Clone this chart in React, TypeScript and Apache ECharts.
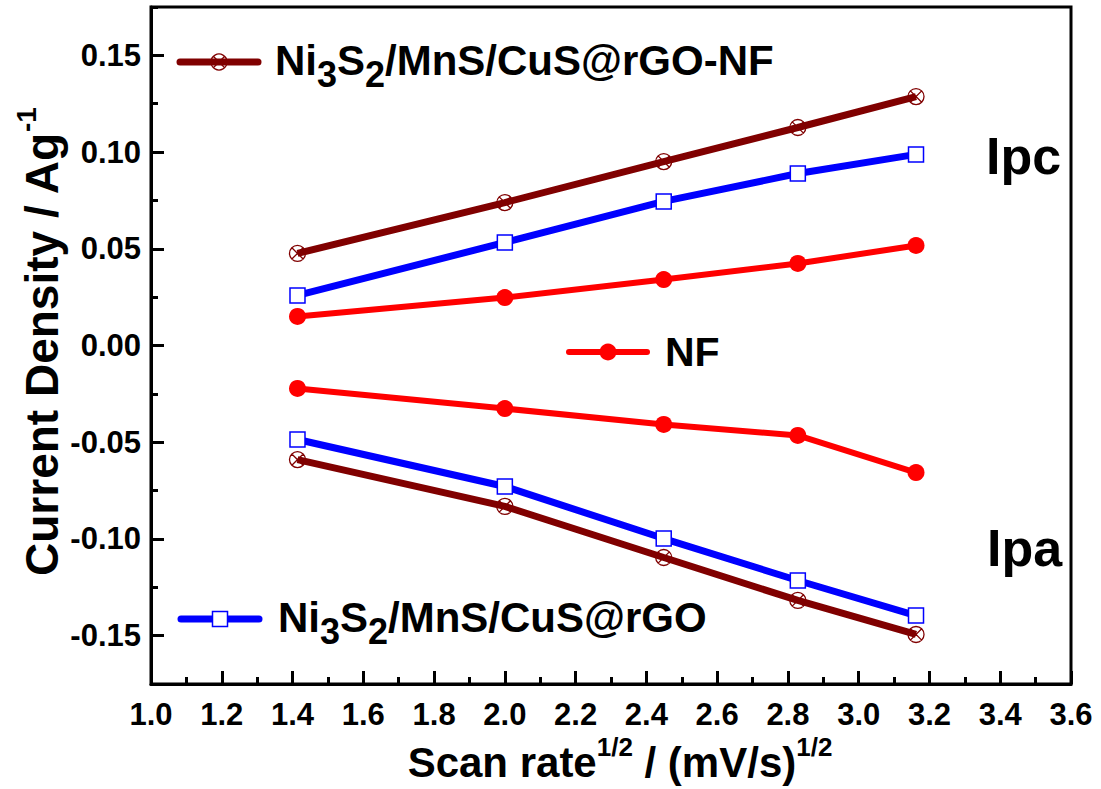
import React, { useEffect, useRef } from "react";
import * as echarts from "echarts";

const scanRate = [1.414, 2.0, 2.449, 2.828, 3.162];
const compositeNFIpc = [0.0476, 0.0739, 0.0951, 0.1127, 0.1287];
const compositeNFIpa = [-0.059, -0.0832, -0.1096, -0.1318, -0.1494];
const compositeIpc = [0.0259, 0.0533, 0.0745, 0.0889, 0.0988];
const compositeIpa = [-0.0486, -0.0729, -0.0998, -0.1215, -0.1396];
const nfIpc = [0.015, 0.0248, 0.0341, 0.0424, 0.0517];
const nfIpa = [-0.0222, -0.0326, -0.0408, -0.0465, -0.0657];

const FONT = "'Liberation Sans', Arial, sans-serif";
const BROWN = "#800000";
const BLUE = "#0000ff";
const RED = "#ff0000";

const GRID_LEFT = 151;
const GRID_RIGHT = 30;
const GRID_TOP = 7;
const GRID_BOTTOM = 105;
const W = 1101;
const H = 789;

const crossedCircle =
  "path://M10,0 A10,10 0 1,1 10,20 A10,10 0 1,1 10,0 Z M2.93,2.93 L17.07,17.07 M17.07,2.93 L2.93,17.07";

const pair = (ys: number[]) => scanRate.map((x, i) => [x, ys[i]]);

export default function App() {
  const ref = useRef<HTMLDivElement>(null);
  useEffect(() => {
    if (!ref.current) return;
    const chart = echarts.init(ref.current, undefined, { renderer: "svg" });

    const mkSeries = (name: string, ys: number[], kind: string) => {
      const base: any = {
        name,
        type: "line",
        data: pair(ys),
        xAxisIndex: 0,
        yAxisIndex: 0,
        symbolKeepAspect: true,
        z: 3,
      };
      if (kind === "brown") {
        base.symbol = crossedCircle;
        base.symbolSize = 16;
        base.lineStyle = { color: BROWN, width: 7 };
        base.itemStyle = { color: "rgba(0,0,0,0)", borderColor: BROWN, borderWidth: 1.3 };
      } else if (kind === "blue") {
        base.symbol = "rect";
        base.symbolSize = 15;
        base.lineStyle = { color: BLUE, width: 7 };
        base.itemStyle = { color: "#ffffff", borderColor: BLUE, borderWidth: 1.5 };
      } else {
        base.symbol = "circle";
        base.symbolSize = 17;
        base.lineStyle = { color: RED, width: 6 };
        base.itemStyle = { color: RED, borderColor: RED, borderWidth: 0 };
      }
      return base;
    };

    const richMain = { fontSize: 42, fontWeight: "bold", fontFamily: FONT };
    const richSub = { fontSize: 36, fontWeight: "bold", fontFamily: FONT, padding: [28, 0, 0, 0] };
    const titleMain = { fontSize: 42, fontWeight: "bold", fontFamily: FONT };
    const titleSup = { fontSize: 26, fontWeight: "bold", fontFamily: FONT, padding: [0, 0, 30, 0] };
    const yTitleMain = { fontSize: 46, fontWeight: "bold", fontFamily: FONT };
    const yTitleSup = { fontSize: 28, fontWeight: "bold", fontFamily: FONT, padding: [0, 0, 32, 0] };

    const tickStyle = { color: "#000", width: 3 };
    const labelStyle = { color: "#000", fontSize: 31, fontWeight: "bold", fontFamily: FONT };

    const option: any = {
      animation: false,
      backgroundColor: "#ffffff",
      grid: {
        left: GRID_LEFT,
        right: GRID_RIGHT,
        top: GRID_TOP,
        bottom: GRID_BOTTOM,
        show: true,
        borderColor: "#000",
        borderWidth: 3,
        backgroundColor: "transparent",
      },
      xAxis: {
        type: "value",
        min: 1.0,
        max: 3.6,
        interval: 0.2,
        position: "bottom",
        axisLine: { show: true, onZero: false, lineStyle: tickStyle },
        axisTick: { show: true, inside: true, length: 13, lineStyle: tickStyle },
        minorTick: { show: true, splitNumber: 2, length: 7, lineStyle: tickStyle },
        splitLine: { show: false },
        axisLabel: { ...labelStyle, margin: 15, formatter: (v: number) => v.toFixed(1) },
      },
      yAxis: [
        {
          type: "value",
          min: -0.175,
          max: 0.175,
          splitNumber: 7,
          position: "left",
          axisLine: { show: true, onZero: false, lineStyle: tickStyle },
          axisTick: { show: true, inside: true, length: 13, lineStyle: tickStyle },
          splitLine: { show: false },
          axisLabel: {
            ...labelStyle,
            margin: 10,
            showMinLabel: false,
            showMaxLabel: false,
            formatter: (v: number) => v.toFixed(2),
          },
        },
        {
          // minor inward ticks along the left edge
          type: "value",
          min: -0.175,
          max: 0.175,
          interval: 0.025,
          position: "left",
          axisLine: { show: false },
          axisTick: { show: true, inside: true, length: 7, lineStyle: tickStyle },
          splitLine: { show: false },
          axisLabel: { show: false },
        },
      ],
      series: [
        mkSeries("NF Ipc", nfIpc, "red"),
        mkSeries("NF Ipa", nfIpa, "red"),
        mkSeries("Ni3S2/MnS/CuS@rGO Ipc", compositeIpc, "blue"),
        mkSeries("Ni3S2/MnS/CuS@rGO Ipa", compositeIpa, "blue"),
        mkSeries("Ni3S2/MnS/CuS@rGO-NF Ipc", compositeNFIpc, "brown"),
        mkSeries("Ni3S2/MnS/CuS@rGO-NF Ipa", compositeNFIpa, "brown"),
      ],
      graphic: [
        // Brown legend
        { type: "line", shape: { x1: 180, y1: 62, x2: 258, y2: 62 }, style: { stroke: BROWN, lineWidth: 7, lineCap: "round" }, z: 10 },
        { type: "circle", shape: { cx: 219, cy: 62, r: 8 }, style: { fill: "none", stroke: BROWN, lineWidth: 1.3 }, z: 11 },
        { type: "line", shape: { x1: 213.3, y1: 56.3, x2: 224.7, y2: 67.7 }, style: { stroke: BROWN, lineWidth: 1.3 }, z: 11 },
        { type: "line", shape: { x1: 224.7, y1: 56.3, x2: 213.3, y2: 67.7 }, style: { stroke: BROWN, lineWidth: 1.3 }, z: 11 },
        {
          type: "text",
          x: 275,
          y: 60,
          z: 11,
          style: {
            text: "{m|Ni}{s|3}{m|S}{s|2}{m|/MnS/CuS@rGO-NF}",
            rich: { m: richMain, s: richSub },
            align: "left",
            verticalAlign: "middle",
            fill: "#000",
          },
        },
        // NF legend
        { type: "line", shape: { x1: 569, y1: 352, x2: 647, y2: 352 }, style: { stroke: RED, lineWidth: 6, lineCap: "round" }, z: 10 },
        { type: "circle", shape: { cx: 608, cy: 352, r: 8.5 }, style: { fill: RED }, z: 11 },
        {
          type: "text",
          x: 665,
          y: 352,
          z: 11,
          style: { text: "NF", font: `bold 41px ${FONT}`, fill: "#000", align: "left", verticalAlign: "middle" },
        },
        // Blue legend
        { type: "line", shape: { x1: 181, y1: 619, x2: 259, y2: 619 }, style: { stroke: BLUE, lineWidth: 7, lineCap: "round" }, z: 10 },
        { type: "rect", shape: { x: 212.5, y: 611.5, width: 15, height: 15 }, style: { fill: "#fff", stroke: BLUE, lineWidth: 1.5 }, z: 11 },
        {
          type: "text",
          x: 278,
          y: 617,
          z: 11,
          style: {
            text: "{m|Ni}{s|3}{m|S}{s|2}{m|/MnS/CuS@rGO}",
            rich: { m: richMain, s: richSub },
            align: "left",
            verticalAlign: "middle",
            fill: "#000",
          },
        },
        // Ipc / Ipa
        {
          type: "text",
          x: 986,
          y: 156,
          z: 11,
          style: { text: "Ipc", font: `bold 52px ${FONT}`, fill: "#000", align: "left", verticalAlign: "middle" },
        },
        {
          type: "text",
          x: 987,
          y: 548,
          z: 11,
          style: { text: "Ipa", font: `bold 52px ${FONT}`, fill: "#000", align: "left", verticalAlign: "middle" },
        },
        // Axis titles
        {
          type: "text",
          x: 42,
          y: 342,
          rotation: Math.PI / 2,
          z: 11,
          style: {
            text: "{m|Current Density / Ag}{p|-1}",
            rich: { m: yTitleMain, p: yTitleSup },
            align: "center",
            verticalAlign: "middle",
            fill: "#000",
          },
        },
        {
          type: "text",
          x: 620,
          y: 762,
          z: 11,
          style: {
            text: "{m|Scan rate}{p|1/2}{m| / (mV/s)}{p|1/2}",
            rich: { m: titleMain, p: titleSup },
            align: "center",
            verticalAlign: "middle",
            fill: "#000",
          },
        },
      ],
    };

    chart.setOption(option);
    return () => chart.dispose();
  }, []);

  return (
    <div
      ref={ref}
      style={{ position: "fixed", left: 0, top: 0, width: W, height: H, background: "#fff" }}
    />
  );
}
